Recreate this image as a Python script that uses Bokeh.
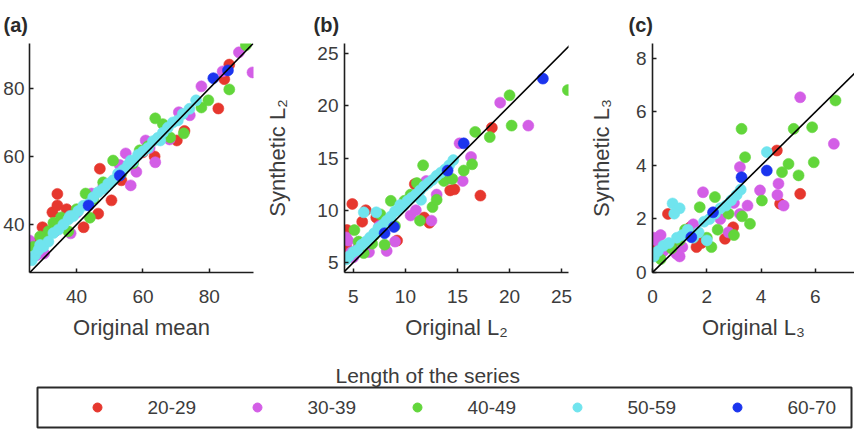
from bokeh.plotting import figure
from bokeh.models import Range1d, FixedTicker, Slope
from bokeh.layouts import row, column
from bokeh.embed import file_html
from bokeh.resources import INLINE
from bokeh.core.properties import value

groups = ["20-29", "30-39", "40-49", "50-59", "60-70"]
colors = ["#e6372e", "#d35ee6", "#62d63b", "#70e4ee", "#1b34ee"]

# ---------------- panel (a): mean ----------------
a_red_x = [27.5, 29.7, 32.7, 34.2, 34.2, 37.0, 42.1, 46.5, 47.0, 50.5, 53.5, 59.9, 63.5, 70.2, 72.5, 82.7, 84.5, 86.0]
a_red_y = [34.5, 39.2, 43.6, 45.6, 49.0, 44.5, 39.2, 43.2, 56.4, 47.1, 53.0, 61.2, 60.0, 64.7, 67.5, 74.1, 82.7, 87.0]
a_mag_x = [25.8, 28.0, 30.2, 33.5, 38.2, 40.0, 44.5, 48.0, 53.0, 54.8, 56.3, 58.0, 60.8, 63.7, 66.7, 68.0, 70.8, 74.1, 77.6, 84.0, 88.9, 93.0, 36.0, 62.0]
a_mag_y = [35.3, 31.0, 31.5, 38.0, 37.4, 43.5, 49.1, 51.0, 57.5, 60.9, 51.5, 55.5, 64.7, 58.3, 66.8, 65.0, 73.0, 72.1, 80.6, 85.0, 90.6, 84.7, 41.5, 62.5]
a_grn_x = [27.0, 30.2, 31.5, 33.0, 35.3, 37.5, 40.0, 42.7, 45.0, 48.0, 51.0, 53.5, 57.0, 59.0, 61.5, 63.7, 66.0, 68.2, 72.3, 77.6, 79.7, 86.0, 91.0, 29.0, 44.0]
a_grn_y = [33.5, 35.3, 38.0, 40.5, 42.1, 38.0, 44.5, 49.1, 47.5, 52.4, 58.8, 55.0, 58.0, 61.8, 63.0, 71.2, 69.5, 65.6, 66.8, 74.4, 76.5, 79.7, 92.7, 36.5, 42.0]
a_cyn_x = [26.5, 27.5, 28.5, 30.0, 31.5, 33.0, 34.5, 36.0, 37.5, 39.0, 40.5, 42.0, 43.5, 45.0, 46.5, 48.0, 49.5, 51.0, 52.5, 54.0, 55.5, 57.0, 58.5, 60.0, 61.5, 63.0, 64.5, 66.0, 67.5, 69.0, 70.5, 72.0, 74.0, 76.0, 65.2, 56.3, 38.0, 29.0]
a_cyn_y = [29.5, 31.0, 32.5, 33.5, 35.0, 37.5, 38.5, 40.0, 41.5, 42.5, 44.0, 45.5, 46.0, 48.0, 49.5, 50.5, 52.0, 53.0, 55.0, 56.0, 57.5, 58.5, 60.5, 61.5, 62.5, 64.5, 65.5, 67.0, 68.5, 70.0, 70.6, 72.5, 74.0, 76.5, 64.7, 58.8, 42.5, 34.0]
a_blu_x = [43.6, 53.0, 81.2, 85.6]
a_blu_y = [45.6, 54.4, 83.0, 85.3]

# ---------------- panel (b): L2 ----------------
b_red_x = [4.3, 4.4, 4.9, 5.85, 6.2, 7.2, 9.2, 10.9, 11.8, 12.3, 14.3, 14.7, 17.2, 18.3]
b_red_y = [6.5, 8.1, 10.6, 8.9, 10.0, 9.3, 7.1, 12.5, 9.3, 8.8, 11.9, 12.0, 11.4, 17.9]
b_mag_x = [4.3, 4.5, 4.8, 5.5, 6.5, 8.2, 9.0, 10.5, 12.0, 12.5, 13.0, 15.2, 15.5, 16.3, 19.1, 21.8, 7.5, 11.0, 14.0, 5.0]
b_mag_y = [7.4, 7.1, 6.0, 6.6, 6.0, 6.1, 7.0, 9.5, 12.8, 9.0, 11.5, 16.4, 12.8, 15.1, 20.3, 18.1, 8.5, 10.0, 13.0, 5.5]
b_grn_x = [5.1, 6.0, 5.5, 6.8, 7.6, 8.6, 9.9, 11.1, 11.4, 11.7, 12.6, 13.7, 15.6, 16.4, 16.7, 18.1, 20.0, 20.2, 25.6, 7.0, 9.0, 10.5, 14.5, 13.0, 8.0]
b_grn_y = [8.1, 5.9, 7.0, 6.8, 9.6, 10.9, 10.9, 12.6, 9.0, 14.3, 10.3, 12.8, 13.8, 14.4, 17.5, 17.0, 21.0, 18.1, 21.5, 7.6, 8.5, 11.5, 13.0, 11.0, 6.7]
b_cyn_x = [4.3, 4.6, 5.0, 5.4, 5.8, 6.2, 6.6, 7.0, 7.4, 7.8, 8.2, 8.6, 9.0, 9.4, 9.8, 10.2, 10.6, 11.0, 11.4, 11.8, 12.2, 12.6, 13.0, 13.4, 13.8, 14.2, 14.6, 7.2, 9.5, 11.5, 6.0]
b_cyn_y = [5.3, 5.6, 6.0, 6.2, 6.7, 7.0, 7.4, 7.8, 8.3, 8.6, 9.0, 9.4, 9.9, 10.1, 10.4, 10.9, 11.2, 11.5, 11.9, 12.3, 12.6, 12.9, 13.3, 13.6, 13.9, 14.3, 14.8, 9.8, 10.5, 11.0, 9.8]
b_blu_x = [8.0, 8.9, 14.05, 15.6, 23.2]
b_blu_y = [7.8, 8.4, 13.8, 16.4, 22.6]

# ---------------- panel (c): L3 ----------------
c_red_x = [0.01, 0.57, 1.4, 1.62, 2.67, 2.97, 4.58, 4.7, 5.44, 0.9, 1.8]
c_red_y = [1.07, 2.19, 1.7, 0.95, 1.26, 1.69, 4.56, 2.57, 2.94, 0.9, 1.1]
c_mag_x = [0.05, 0.14, 0.3, 0.6, 0.88, 1.0, 1.1, 1.5, 1.86, 2.8, 3.0, 3.22, 3.22, 3.5, 3.96, 4.6, 4.64, 4.83, 5.44, 6.68, 0.4, 2.5]
c_mag_y = [1.3, 1.2, 1.4, 1.0, 0.7, 0.6, 0.95, 1.8, 3.0, 1.5, 2.6, 2.19, 3.94, 2.5, 3.07, 2.9, 3.32, 2.5, 6.55, 4.81, 0.8, 2.0]
c_grn_x = [0.3, 0.7, 1.0, 1.74, 2.17, 2.3, 2.4, 2.8, 3.0, 3.28, 3.41, 3.59, 4.03, 4.77, 5.01, 5.2, 5.38, 5.88, 5.94, 6.74, 1.2, 2.0, 3.3]
c_grn_y = [0.5, 0.9, 1.2, 2.44, 0.95, 2.82, 1.6, 2.2, 1.4, 5.37, 4.31, 1.82, 2.69, 3.75, 4.06, 5.37, 3.63, 5.43, 4.12, 6.43, 1.6, 1.3, 2.1]
c_cyn_x = [0.05, 0.2, 0.4, 0.6, 0.74, 0.9, 1.1, 1.3, 1.5, 1.7, 1.9, 2.1, 2.3, 2.5, 2.7, 2.9, 3.1, 3.25, 4.21, 1.0, 2.0, 0.8]
c_cyn_y = [0.6, 0.8, 1.0, 1.1, 2.58, 1.3, 1.4, 1.6, 1.3, 1.5, 1.9, 2.0, 2.2, 2.4, 2.5, 2.7, 2.9, 3.1, 4.5, 2.4, 1.2, 2.2]
c_blu_x = [1.43, 2.23, 3.28, 4.21]
c_blu_y = [1.32, 2.25, 3.56, 3.81]

FONT = "Liberation Sans"
TXT = "#3c3c3c"
AX = "#1e1e1e"


def panel(width, xr, yr, xticks, yticks, xlabel, ylabel, tag, tag_offset,
          bl, br, series, ylab_standoff, ytick_standoff=6):
    p = figure(width=width, height=342, x_range=Range1d(*xr), y_range=Range1d(*yr),
               output_backend="svg", toolbar_location=None,
               min_border_left=bl, min_border_right=br,
               min_border_top=43, min_border_bottom=70)
    p.grid.visible = False
    p.outline_line_color = None
    p.xaxis.ticker = FixedTicker(ticks=xticks)
    p.yaxis.ticker = FixedTicker(ticks=yticks)
    p.xaxis.axis_label = xlabel
    if ylabel:
        p.yaxis.axis_label = ylabel
    for ax in (p.xaxis[0], p.yaxis[0]):
        ax.axis_line_color = AX
        ax.axis_line_width = 1.6
        ax.major_tick_in = 4
        ax.major_tick_out = 0
        ax.major_tick_line_color = AX
        ax.major_tick_line_width = 1.5
        ax.minor_tick_line_color = None
        ax.major_label_text_font = FONT
        ax.major_label_text_font_size = "19px"
        ax.major_label_text_color = TXT
        ax.axis_label_text_font = FONT
        ax.axis_label_text_font_size = "22px"
        ax.axis_label_text_font_style = "normal"
        ax.axis_label_text_color = TXT
    p.xaxis.major_label_standoff = 17
    p.xaxis.axis_label_standoff = 9
    p.yaxis.major_label_standoff = ytick_standoff
    p.yaxis.axis_label_standoff = ylab_standoff
    for (xs, ys), col in zip(series, colors):
        p.scatter(xs, ys, size=11, fill_color=col, line_color=col, line_alpha=0.6)
    p.add_layout(Slope(gradient=1, y_intercept=0, line_color="black", line_width=1.6))
    p.title.text = tag
    p.title.align = "left"
    p.title.offset = tag_offset
    p.title.standoff = 15
    p.title.text_font = FONT
    p.title.text_font_size = "20px"
    p.title.text_font_style = "bold"
    p.title.text_color = "#2a2a2a"
    return p


pa = panel(262, (25.8, 93.3), (25.9, 93.2), [40, 60, 80], [40, 60, 80],
           "Original mean", "", "(a)", -26, 28, 9,
           [(a_red_x, a_red_y), (a_mag_x, a_mag_y), (a_grn_x, a_grn_y),
            (a_cyn_x, a_cyn_y), (a_blu_x, a_blu_y)], 0, ytick_standoff=5)
pb = panel(313, (4.15, 25.66), (4.04, 25.96), [5, 10, 15, 20, 25], [5, 10, 15, 20, 25],
           "Original L\u2082", "Synthetic L\u2082", "(b)", -31, 78, 7,
           [(b_red_x, b_red_y), (b_mag_x, b_mag_y), (b_grn_x, b_grn_y),
            (b_cyn_x, b_cyn_y), (b_blu_x, b_blu_y)], 24)
pc = panel(279, (0, 7.44), (0, 8.56), [0, 2, 4, 6], [0, 2, 4, 6, 8],
           "Original L\u2083", "Synthetic L\u2083", "(c)", -24, 77, 0,
           [(c_red_x, c_red_y), (c_mag_x, c_mag_y), (c_grn_x, c_grn_y),
            (c_cyn_x, c_cyn_y), (c_blu_x, c_blu_y)], 19)

# ---------------- legend strip ----------------
box_left, box_right = 37, 851
pl = figure(width=854, height=88, x_range=Range1d(box_left, box_right), y_range=Range1d(0, 1),
            output_backend="svg", toolbar_location=None,
            min_border_left=box_left, min_border_right=854 - box_right,
            min_border_top=45, min_border_bottom=3)
pl.axis.visible = False
pl.grid.visible = False
pl.outline_line_color = "#2a2a2a"
pl.outline_line_width = 2
pl.title.text = "Length of the series"
pl.title.align = "left"
pl.title.offset = 335 - box_left
pl.title.standoff = 2
pl.title.text_font = FONT
pl.title.text_font_size = "21px"
pl.title.text_font_style = "normal"
pl.title.text_color = TXT

first, pitch = 97, 160
mx = [first + i * pitch for i in range(len(groups))]
tx = [m + 50 for m in mx]
pl.scatter(mx, [0.5] * len(groups), size=9, fill_color=colors, line_color=colors)
pl.text(tx, [0.5] * len(groups), text=groups, text_baseline="middle", text_align="left",
        text_font=value(FONT), text_font_size="19px", text_color=TXT)

layout = column(row(pa, pb, pc), pl)
open("out.html", "w").write(file_html(layout, INLINE))
